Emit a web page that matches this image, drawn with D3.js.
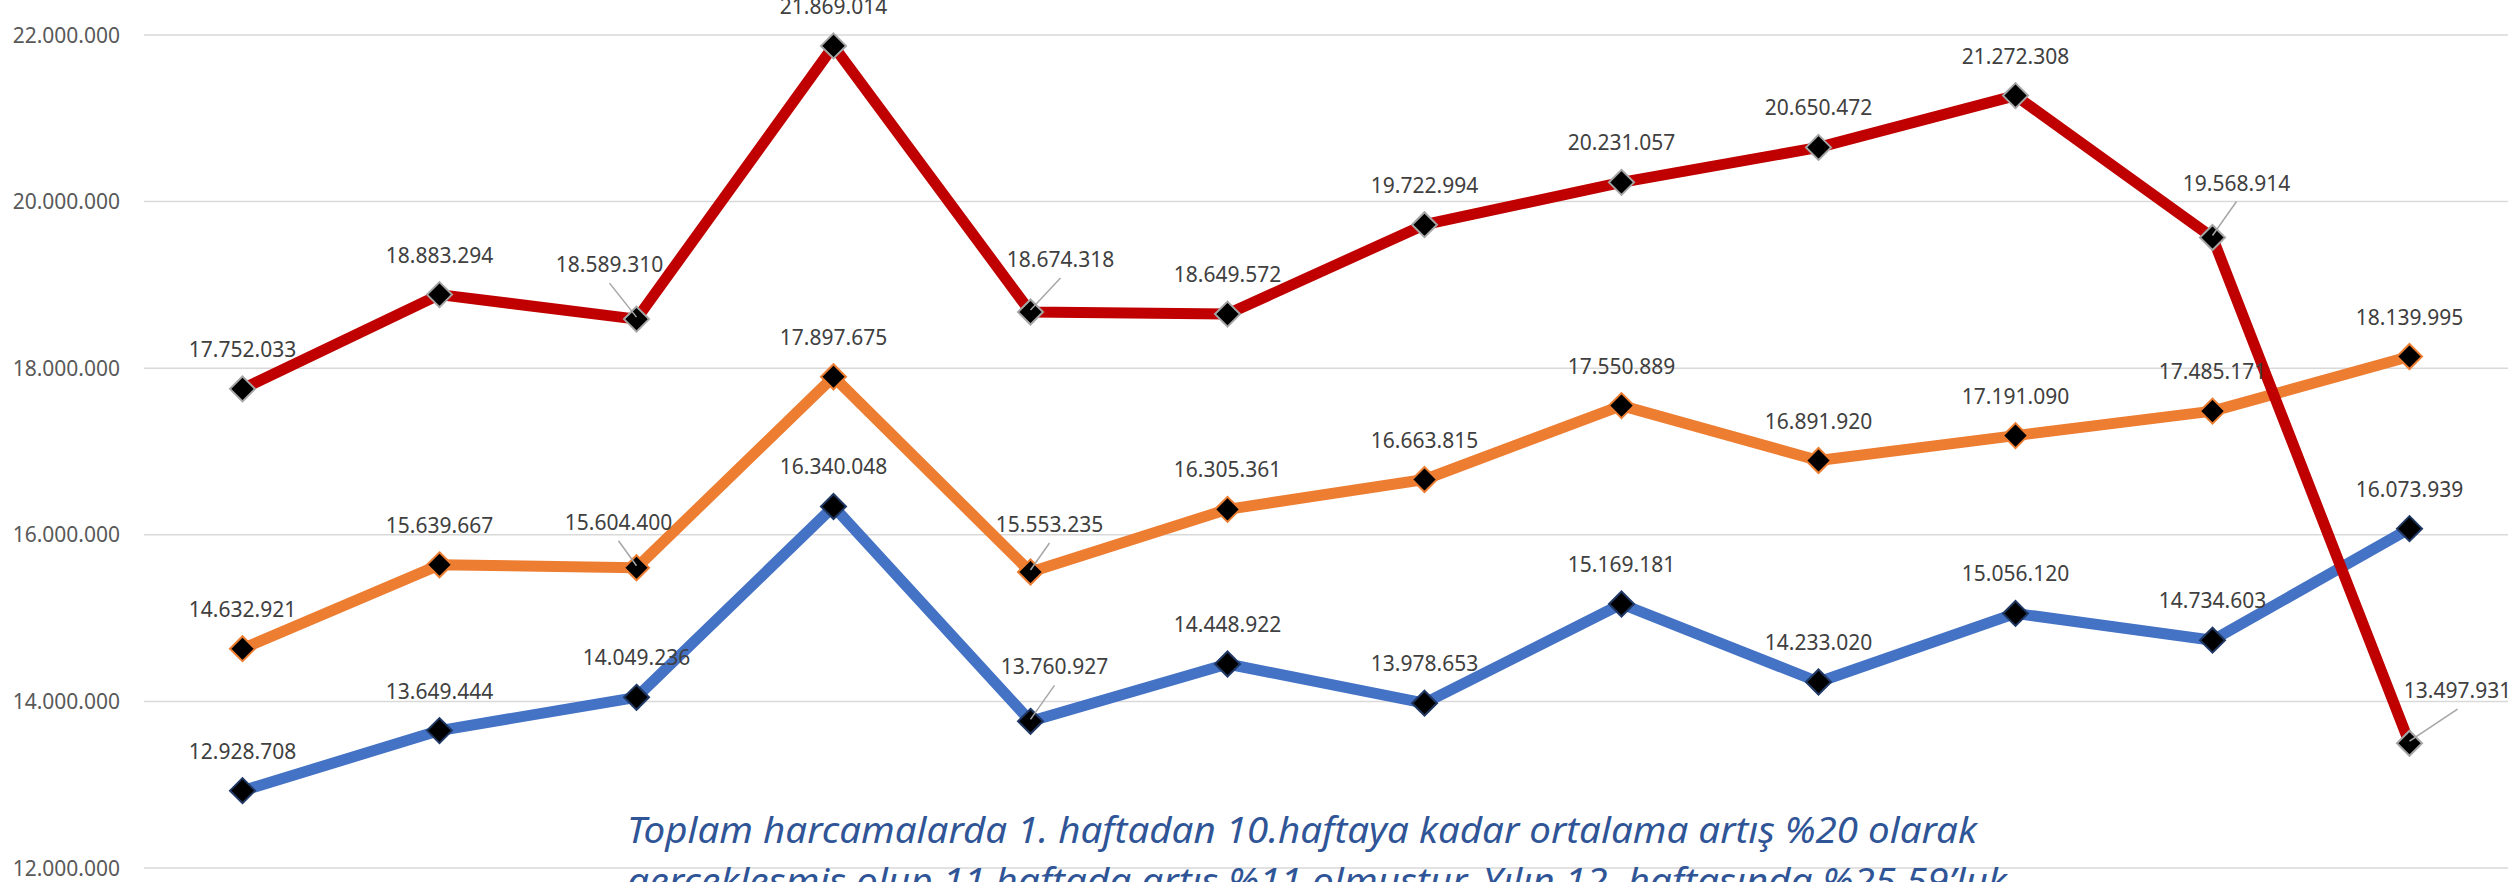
<!DOCTYPE html>
<html>
<head>
<meta charset="utf-8">
<script src="https://cdn.jsdelivr.net/npm/d3@7"></script>
<style>
  body { margin: 0; background: #fff; }
  svg { display: block; }
</style>
</head>
<body>
<svg id="svg" width="2520" height="882"></svg>
<script>
const weeks = ['1', '2', '3', '4', '5', '6', '7', '8', '9', '10', '11', '12']

const blueValues = [12928708, 13649444, 14049236, 16340048, 13760927, 14448922, 13978653, 15169181, 14233020, 15056120, 14734603, 16073939]
const orangeValues = [14632921, 15639667, 15604400, 17897675, 15553235, 16305361, 16663815, 17550889, 16891920, 17191090, 17485171, 18139995]
const redValues = [17752033, 18883294, 18589310, 21869014, 18674318, 18649572, 19722994, 20231057, 20650472, 21272308, 19568914, 13497931]

const yTicks = [12000000, 14000000, 16000000, 18000000, 20000000, 22000000]

const noteLines = [
  'Toplam harcamalarda 1. haftadan 10.haftaya kadar ortalama artış %20 olarak',
  'gerçekleşmiş olup 11.haftada artış %11 olmuştur. Yılın 12. haftasında %25,59’luk'
]

const series = [
  { key: 'blue', values: blueValues, colour: '#4472C4', markerStroke: '#203864' },
  { key: 'orange', values: orangeValues, colour: '#ED7D31', markerStroke: '#ED7D31' },
  { key: 'red', values: redValues, colour: '#C00000', markerStroke: '#A5A5A5' }
]

// labels that Excel moved away from the point (with a leader line)
const movedLabels = {
  'red-2': [-27, -47],
  'red-4': [30, -45],
  'red-10': [24, -47],
  'red-11': [48, -45],
  'orange-2': [-18, -38],
  'orange-4': [19, -40],
  'blue-4': [24, -47]
}

const fmt = v => d3.format(',')(v).replace(/,/g, '.')

const xScale = d3.scalePoint()
  .domain(weeks)
  .range([144, 2508])
  .padding(0.5)

const yScale = d3.scaleLinear()
  .domain([12000000, 22000000])
  .range([868, 35])

const svg = d3.select('#svg')

// gridlines + y labels
svg.append('g')
  .selectAll('line')
  .data(yTicks)
  .enter()
  .append('line')
  .attr('x1', 144)
  .attr('x2', 2508)
  .attr('y1', d => yScale(d))
  .attr('y2', d => yScale(d))
  .attr('stroke', '#D9D9D9')
  .attr('stroke-width', 1.5)

svg.append('g')
  .selectAll('text')
  .data(yTicks)
  .enter()
  .append('text')
  .text(d => fmt(d))
  .attr('x', 120)
  .attr('y', d => yScale(d))
  .attr('dy', '0.36em')
  .attr('text-anchor', 'end')
  .style('font-family', 'Noto Sans')
  .style('font-size', '21px')
  .attr('fill', '#595959')

const line = d3.line()
  .x((d, i) => xScale(weeks[i]))
  .y(d => yScale(d))

const diamond = (cx, cy, r) => `M${cx},${cy - r}L${cx + r},${cy}L${cx},${cy + r}L${cx - r},${cy}Z`

series.forEach(s => {
  const g = svg.append('g')
  g.append('path')
    .attr('d', line(s.values))
    .attr('fill', 'none')
    .attr('stroke', s.colour)
    .attr('stroke-width', 11)
    .attr('stroke-linejoin', 'round')

  g.selectAll('path.marker')
    .data(s.values)
    .enter()
    .append('path')
    .attr('class', 'marker')
    .attr('d', (d, i) => diamond(xScale(weeks[i]), yScale(d), 12.5))
    .attr('fill', '#000')
    .attr('stroke', s.markerStroke)
    .attr('stroke-width', 2)
})

// data labels
series.forEach(s => {
  const g = svg.append('g')
  s.values.forEach((v, i) => {
    const px = xScale(weeks[i])
    const py = yScale(v)
    const moved = movedLabels[s.key + '-' + i]
    const off = moved || [0, -32]
    const lx = px + off[0]
    const ly = py + off[1]
    if (moved) {
      g.append('line')
        .attr('x1', px)
        .attr('y1', py - 2)
        .attr('x2', lx)
        .attr('y2', ly + 11)
        .attr('stroke', '#A6A6A6')
        .attr('stroke-width', 1.5)
    }
    g.append('text')
      .text(fmt(v))
      .attr('x', lx)
      .attr('y', ly)
      .attr('text-anchor', 'middle')
      .style('font-family', 'Noto Sans')
      .style('font-size', '21px')
      .attr('fill', '#404040')
  })
})

// note text at the bottom
svg.append('g')
  .selectAll('text')
  .data(noteLines)
  .enter()
  .append('text')
  .text(d => d)
  .attr('x', 627)
  .attr('y', (d, i) => 843 + i * 51)
  .attr('textLength', (d, i) => i === 0 ? 1350 : 1380)
  .attr('lengthAdjust', 'spacingAndGlyphs')
  .style('font-family', 'Noto Sans')
  .style('font-style', 'italic')
  .style('font-size', '37px')
  .attr('fill', '#2F5597')
</script>
</body>
</html>
